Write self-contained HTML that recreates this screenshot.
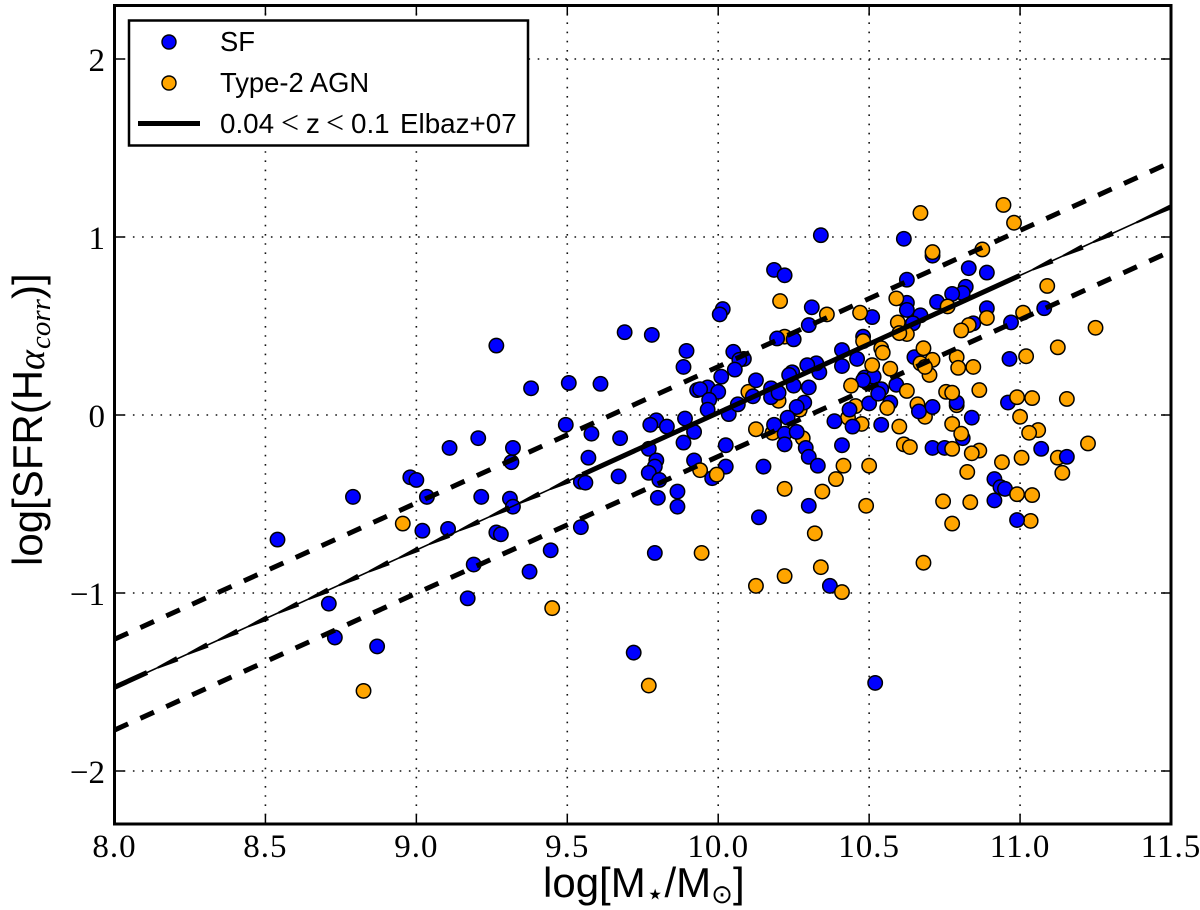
<!DOCTYPE html>
<html lang="en">
<head>
<meta charset="utf-8">
<title>log SFR vs log stellar mass</title>
<style>
html,body{margin:0;padding:0;background:#fff;}
svg{display:block;}
</style>
</head>
<body>
<svg id="chart" xmlns="http://www.w3.org/2000/svg" width="1200" height="910" viewBox="0 0 1200 910">
  <rect x="0" y="0" width="1200" height="910" fill="#fff"/>
  <g id="grid"></g>
  <g id="marks"></g>
  <g id="lines"></g>
  <g id="ticks"></g>
  <rect x="114.5" y="5.5" width="1056.5" height="818.5" fill="none" stroke="#000" stroke-width="3"/>
  <g id="tick-labels" font-family="'Liberation Serif',serif" font-size="33" fill="#000"></g>

  <text x="543" y="897" font-family="'Liberation Sans',sans-serif" font-size="42" fill="#000">log[M<tspan font-family="'DejaVu Sans',sans-serif" font-size="30" dy="7">⋆</tspan><tspan dy="-7">/M</tspan><tspan font-family="'DejaVu Sans',sans-serif" font-size="26" dy="6">⊙</tspan><tspan dy="-6">]</tspan></text>

  <text transform="translate(42,566) rotate(-90)" x="0" y="0" font-family="'Liberation Sans',sans-serif" font-size="42" fill="#000">log[SFR(H<tspan font-family="'Liberation Serif',serif" font-style="italic" font-size="38" dy="2">α</tspan><tspan font-family="'Liberation Serif',serif" font-style="italic" font-size="29" dy="6" dx="1">corr</tspan><tspan dy="-8">)]</tspan></text>

  <g>
    <rect x="129" y="20.5" width="399" height="125" fill="#fff" stroke="#000" stroke-width="2.5"/>
    <circle cx="169" cy="42" r="7" fill="#0000ff" stroke="#000" stroke-width="1.4"/>
    <text x="220" y="51" font-family="'Liberation Sans',sans-serif" font-size="27.4" fill="#000">SF</text>
    <circle cx="169" cy="83" r="7" fill="#ffa500" stroke="#000" stroke-width="1.4"/>
    <text x="220" y="92" font-family="'Liberation Sans',sans-serif" font-size="27.4" fill="#000">Type-2 AGN</text>
    <line x1="138" y1="123.5" x2="200" y2="123.5" stroke="#000" stroke-width="5"/>
    <text y="133" font-family="'Liberation Sans',sans-serif" font-size="27.8" fill="#000"><tspan x="220">0.04</tspan><tspan x="281" font-family="'Liberation Serif',serif" font-size="32">&lt;</tspan><tspan x="306">z</tspan><tspan x="326" font-family="'Liberation Serif',serif" font-size="32">&lt;</tspan><tspan x="351">0.1</tspan><tspan x="400">Elbaz+07</tspan></text>
  </g>
</svg>
<script>
// ---- chart data ----
const xTicks = [8.0, 8.5, 9.0, 9.5, 10.0, 10.5, 11.0, 11.5];
const xTickLabels = ["8.0", "8.5", "9.0", "9.5", "10.0", "10.5", "11.0", "11.5"];
const yTicks = [-2, -1, 0, 1, 2];
const yTickLabels = ["\u22122", "\u22121", "0", "1", "2"];

const sfMass = [8.54,8.71,8.73,8.87,8.79,8.98,9.00,9.035,9.02,9.105,9.11,9.205,9.215,9.17,9.19,9.265,9.265,9.28,9.31,9.32,9.315,9.32,9.38,9.375,9.445,9.495,9.505,9.545,9.56,9.545,9.57,9.58,9.61,9.67,9.675,9.69,9.78,9.72,9.795,9.775,9.83,9.89,9.92,9.885,9.77,9.795,9.79,9.77,9.805,9.92,9.865,9.80,9.865,9.79,9.895,9.885,9.93,9.965,9.94,10.0,9.97,9.965,10.025,10.025,9.98,10.015,10.005,10.05,10.085,10.07,10.055,10.01,10.125,10.035,10.065,10.115,10.175,10.175,10.2,10.25,10.3,10.335,10.245,10.235,10.325,10.295,10.185,10.22,10.34,10.31,10.30,10.195,10.25,10.285,10.26,10.23,10.185,10.22,10.26,10.22,10.29,10.30,10.33,10.15,10.135,10.30,10.37,10.52,10.41,10.385,10.435,10.445,10.50,10.54,10.41,10.41,10.46,10.48,10.51,10.485,10.495,10.515,10.48,10.54,10.53,10.59,10.57,10.665,10.71,10.71,10.615,10.71,10.625,10.625,10.625,10.67,10.645,10.65,10.725,10.83,10.89,10.82,10.81,10.775,10.89,10.845,10.97,11.08,10.965,10.79,10.84,10.96,10.81,10.75,11.07,11.155,10.915,10.935,10.95,10.915,10.99];
const sfLogSfr = [-0.70,-1.06,-1.25,-1.30,-0.46,-0.35,-0.365,-0.46,-0.65,-0.64,-0.185,-0.13,-0.46,-1.03,-0.84,0.39,-0.66,-0.67,-0.47,-0.515,-0.265,-0.185,0.15,-0.88,-0.76,-0.055,0.18,-0.375,-0.38,-0.63,-0.24,-0.105,0.175,-0.345,-0.13,0.465,0.45,-1.335,-0.03,-0.055,-0.065,-0.02,-0.095,-0.155,-0.19,-0.255,-0.29,-0.325,-0.365,-0.255,-0.43,-0.465,-0.515,-0.775,0.36,0.27,0.14,0.155,0.145,0.13,0.085,0.03,-0.17,-0.29,-0.355,0.595,0.565,0.355,0.315,0.31,0.255,0.215,0.195,0.005,0.06,0.105,0.15,0.10,0.125,0.165,0.155,0.24,0.24,0.225,0.29,0.28,0.815,0.785,1.01,0.605,0.505,0.43,0.425,0.07,0.045,-0.015,-0.055,-0.105,-0.095,-0.165,-0.185,-0.235,-0.285,-0.29,-0.575,-0.51,-0.96,-1.505,-0.17,-0.035,0.03,-0.065,0.065,-0.055,0.365,0.275,0.315,0.44,0.55,0.21,0.18,0.215,0.195,0.145,0.12,0.17,0.07,0.02,0.045,-0.185,0.99,0.895,0.76,0.63,0.59,0.56,0.515,0.325,0.635,0.825,0.80,0.72,0.685,0.68,0.60,0.515,0.52,0.60,0.315,0.07,-0.015,0.07,-0.13,-0.185,-0.19,-0.235,-0.36,-0.405,-0.415,-0.48,-0.59];

// Type-2 AGN drawn beneath the SF points
const agnUnderMass = [10.20,10.10,10.27,10.18,10.28,10.455,10.43,10.475,10.79,10.685,10.66,11.125,11.035,10.22];
const agnUnderLogSfr = [0.08,0.13,0.03,-0.10,-0.13,0.05,-0.015,-0.05,0.055,-0.01,0.06,-0.24,-0.595,0.44];

// Type-2 AGN drawn above the SF points
const agnMass = [10.67,10.71,10.205,10.36,10.47,10.48,10.59,10.595,10.625,10.60,10.54,10.545,10.51,10.57,10.68,10.71,10.67,10.70,10.685,10.44,10.625,10.56,10.60,10.125,10.615,10.635,10.415,10.50,10.39,9.995,9.94,10.22,10.345,10.49,10.32,9.945,10.34,10.68,10.22,10.125,10.41,9.77,8.825,9.45,8.955,10.945,10.98,10.875,10.76,11.09,11.01,10.89,10.83,10.805,11.25,11.02,10.79,10.845,10.795,11.125,10.99,11.04,11.155,10.865,10.755,10.775,11.0,10.775,10.805,11.06,11.03,11.225,10.775,10.865,10.84,10.94,11.005,10.825,11.14,10.99,11.04,10.745,10.835,10.775];
const agnLogSfr = [1.135,0.915,0.64,0.565,0.575,0.415,0.655,0.52,0.455,0.46,0.375,0.35,0.28,0.26,0.375,0.31,0.29,0.225,0.27,0.165,0.135,0.04,-0.065,-0.08,-0.165,-0.18,-0.285,-0.285,-0.36,-0.335,-0.31,-0.415,-0.43,-0.51,-0.665,-0.775,-0.855,-0.83,-0.905,-0.96,-0.995,-1.52,-1.55,-1.085,-0.61,1.18,1.08,0.93,0.61,0.725,0.575,0.545,0.505,0.475,0.49,0.33,0.325,0.27,0.265,0.38,0.10,0.095,0.09,0.14,0.13,0.125,-0.01,-0.05,-0.105,-0.085,-0.10,-0.16,-0.19,-0.20,-0.215,-0.265,-0.24,-0.32,-0.325,-0.445,-0.45,-0.485,-0.49,-0.61];

// Elbaz+07 relation and its scatter envelope
const lineMass = [8.0, 11.5];
const elbazLogSfr = [-1.53, 1.17];
const upperLogSfr = [-1.26, 1.42];
const lowerLogSfr = [-1.77, 0.92];

// ---- axis functions ----
const xMin = 8, xMax = 11.5, yMin = -2.3, yMax = 2.3;
const pxLeft = 114.5, pxRight = 1171, pxTop = 5.6, pxBottom = 824.4;
function sx(v){ return pxLeft + (v - xMin) / (xMax - xMin) * (pxRight - pxLeft); }
function sy(v){ return pxBottom - (v - yMin) / (yMax - yMin) * (pxBottom - pxTop); }

const NS = "http://www.w3.org/2000/svg";
function mk(tag, parent, props){
  const el = document.createElementNS(NS, tag);
  for (const k in props) el.setAttribute(k, props[k]);
  parent.appendChild(el);
  return el;
}
const gGrid = document.getElementById("grid");
const gTicks = document.getElementById("ticks");
const gLabels = document.getElementById("tick-labels");
const gMarks = document.getElementById("marks");
const gLines = document.getElementById("lines");
const gridStyle = {stroke:"#111","stroke-width":1.6,"stroke-dasharray":"1.6 7.6",fill:"none"};
const TICK = 10;

// ---- grid, ticks and tick labels ----
xTicks.forEach(function(t, i){
  const x = sx(t);
  if (i > 0 && i < xTicks.length - 1) {
    const g = mk("line", gGrid, Object.assign({x1:x,x2:x,y1:pxBottom,y2:pxTop}, gridStyle));
    
    
    const a = mk("line", gTicks, {x1:x,x2:x,y1:pxBottom,y2:pxBottom-TICK,stroke:"#000","stroke-width":1.5});
    
    
    const b = mk("line", gTicks, {x1:x,x2:x,y1:pxTop,y2:pxTop+TICK,stroke:"#000","stroke-width":1.5});
    
    
  }
  const lab = mk("text", gLabels, {x:x,y:857,"text-anchor":"middle","letter-spacing":"1"});
  lab.textContent = xTickLabels[i];
  
  
});
yTicks.forEach(function(t, i){
  const y = sy(t);
  const g = mk("line", gGrid, Object.assign({x1:pxLeft,x2:pxRight,y1:y,y2:y}, gridStyle));
  
  
  const a = mk("line", gTicks, {x1:pxLeft,x2:pxLeft+TICK,y1:y,y2:y,stroke:"#000","stroke-width":1.5});
  
  
  const b = mk("line", gTicks, {x1:pxRight,x2:pxRight-TICK,y1:y,y2:y,stroke:"#000","stroke-width":1.5});
  
  
  const lab = mk("text", gLabels, {x:105,y:y+12,"text-anchor":"end"});
  lab.textContent = yTickLabels[i];
  
  
});

// ---- points ----
function drawPoints(xs, ys, fill, name){
  xs.forEach(function(m, i){
    const c = mk("circle", gMarks, {cx:sx(m),cy:sy(ys[i]),r:7.2,fill:fill,stroke:"#000","stroke-width":1.5});
    
    
  });
}
drawPoints(agnUnderMass, agnUnderLogSfr, "#ffa500", "agn-point");
drawPoints(sfMass, sfLogSfr, "#0000ff", "sf-point");
drawPoints(agnMass, agnLogSfr, "#ffa500", "agn-point");

// ---- relation lines ----
function lineAt(m, ys){
  return ys[0] + (m - lineMass[0]) / (lineMass[1] - lineMass[0]) * (ys[1] - ys[0]);
}
function dashedLine(ys, name){
  const l = mk("line", gLines, {x1:sx(lineMass[0]),y1:sy(ys[0]),x2:sx(lineMass[1]),y2:sy(ys[1]),stroke:"#000","stroke-width":5,"stroke-dasharray":"14.9 13.5",fill:"none"});
  
  
}
dashedLine(upperLogSfr, "upper-scatter-line");
dashedLine(lowerLogSfr, "lower-scatter-line");

const thin = mk("line", gLines, {x1:sx(lineMass[0]),y1:sy(elbazLogSfr[0]),x2:sx(lineMass[1]),y2:sy(elbazLogSfr[1]),stroke:"#000","stroke-width":1.6});



function taper(m0, m1, w0, w1){
  const x0 = sx(m0), y0 = sy(lineAt(m0, elbazLogSfr));
  const x1 = sx(m1), y1 = sy(lineAt(m1, elbazLogSfr));
  const len = Math.hypot(x1 - x0, y1 - y0);
  const nx = -(y1 - y0) / len, ny = (x1 - x0) / len;
  const pts = [
    [x0 + nx*w0/2, y0 + ny*w0/2], [x1 + nx*w1/2, y1 + ny*w1/2],
    [x1 - nx*w1/2, y1 - ny*w1/2], [x0 - nx*w0/2, y0 - ny*w0/2]
  ].map(function(p){ return p[0].toFixed(2) + "," + p[1].toFixed(2); }).join(" ");
  const seg = mk("polygon", gLines, {points:pts, fill:"#000"});
  
  
}
taper(8.0, 8.108, 5, 5);
for (let k = 1; k <= 14; k++) { const e = 8.108 + k * 0.1; taper(e - 0.065, e, 2, 5.5); }
taper(9.55, 11.0, 5, 5);
for (let k = 0; k < 3; k++) { const e = 11.107 + k * 0.1; taper(e - 0.065, e, 2, 5.5); }
taper(11.385, 11.5, 2, 5);
</script>
</body>
</html>
